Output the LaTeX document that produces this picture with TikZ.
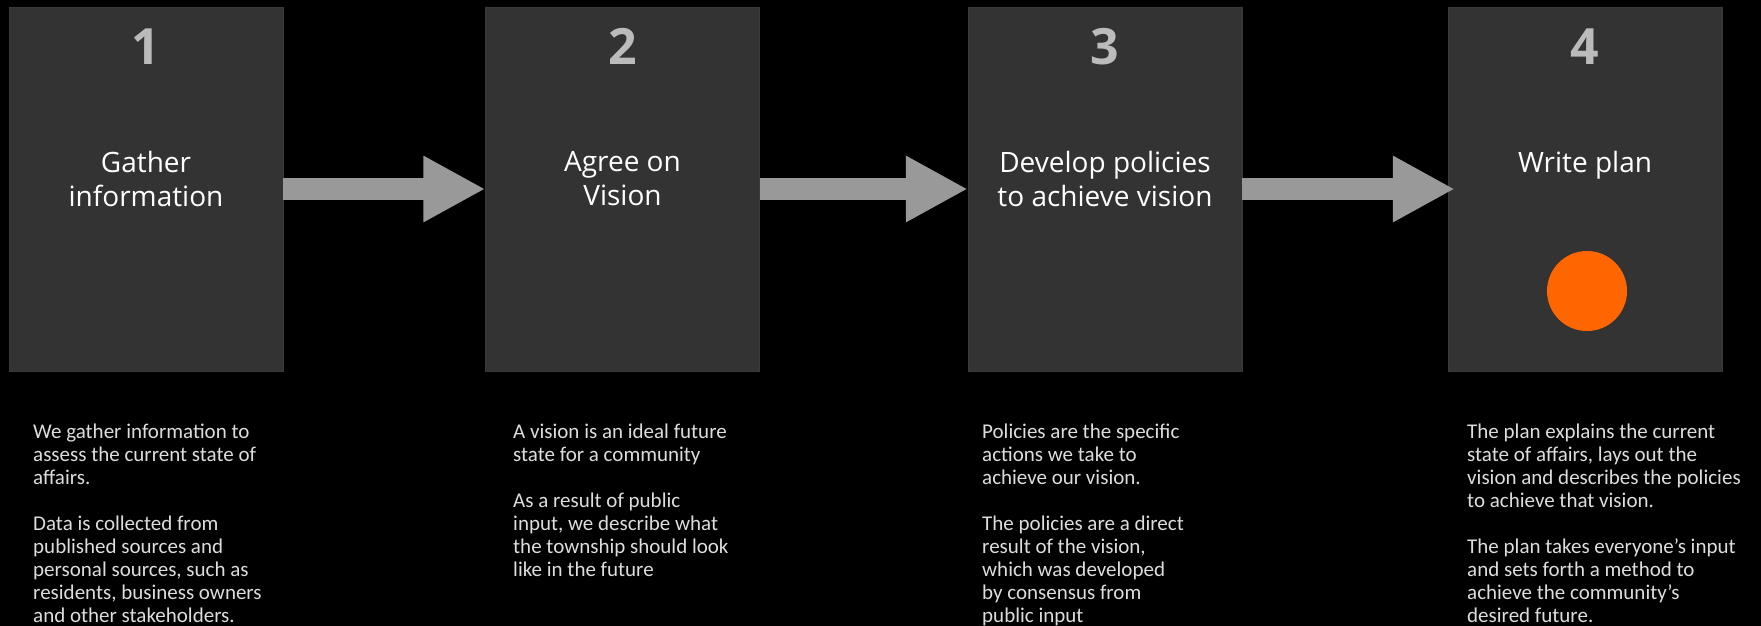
\documentclass[tikz,border=0pt]{standalone}
\usepackage{fontspec}
\setmainfont{Carlito}
\newfontfamily\headfont{Open Sans}
\usetikzlibrary{arrows.meta}

\definecolor{boxgray}{HTML}{333333}
\definecolor{boxedge}{HTML}{3A3A3A}
\definecolor{numgray}{HTML}{BBBBBB}
\definecolor{arrowgray}{HTML}{999999}
\definecolor{descgray}{HTML}{DDDDDD}
\definecolor{dotorange}{HTML}{FF6600}

\tikzset{
	stage/.style={fill=boxgray, draw=boxedge, minimum width=274pt, minimum height=364pt, inner sep=0pt},
	stagenum/.style={font=\headfont\bfseries\fontsize{50}{50}\selectfont, text=numgray, anchor=base},
	stagetitle/.style={font=\headfont\fontsize{28}{34}\selectfont, text=white, align=center, anchor=north, inner sep=0pt},
	stagedesc/.style={font=\fontsize{21}{23}\selectfont, text=descgray, align=left, anchor=north west, inner sep=0pt},
	flow/.style={draw=arrowgray, line width=22pt, -{Triangle[width=62pt,length=62pt]}}
}

\begin{document}
\begin{tikzpicture}[x=1pt, y=-1pt]
		\fill[black] (0, 0) rectangle (1761, 626);
		\useasboundingbox (0, 0) rectangle (1761, 626);

		% the four stages
		\node[stage] (b1) at (146, 189) {};
		\node[stage] (b2) at (622.5, 189) {};
		\node[stage] (b3) at (1105, 189) {};
		\node[stage] (b4) at (1585, 189) {};

		\node[stagenum] (n1) at (146, 64) {1};
		\node[stagenum] (n2) at (622.5, 64) {2};
		\node[stagenum] (n3) at (1105, 64) {3};
		\node[stagenum] (n4) at (1585, 64) {4};

		\node[stagetitle] (t1) at (146, 151) {Gather\\information};
		\node[stagetitle] (t2) at (622.5, 151) {Agree on\\Vision};
		\node[stagetitle] (t3) at (1105, 151) {Develop policies\\to achieve vision};
		\node[stagetitle] (t4) at (1585, 151) {Write plan};

		\node[circle, fill=dotorange, minimum size=80pt, inner sep=0pt] (dot) at (1587, 291) {};

		% arrows between stages
		\draw[flow] (b1.east) -- (b2.west);
		\draw[flow] (b2.east) -- (b3.west);
		\draw[flow] (b3.east) -- ([xshift=7pt]b4.west);

		% descriptions
		\node[stagedesc] (d1) at (33, 424) {We gather information to\\assess the current state of\\affairs.\\[23pt]Data is collected from\\published sources and\\personal sources, such as\\residents, business owners\\and other stakeholders.};
		\node[stagedesc] (d2) at (513, 424) {A vision is an ideal future\\state for a community\\[23pt]As a result of public\\input, we describe what\\the township should look\\like in the future};
		\node[stagedesc] (d3) at (982, 424) {Policies are the specific\\actions we take to\\achieve our vision.\\[23pt]The policies are a direct\\result of the vision,\\which was developed\\by consensus from\\public input};
		\node[stagedesc] (d4) at (1467, 424) {The plan explains the current\\state of affairs, lays out the\\vision and describes the policies\\to achieve that vision.\\[23pt]The plan takes everyone's input\\and sets forth a method to\\achieve the community's\\desired future.};
	\end{tikzpicture}
\end{document}
